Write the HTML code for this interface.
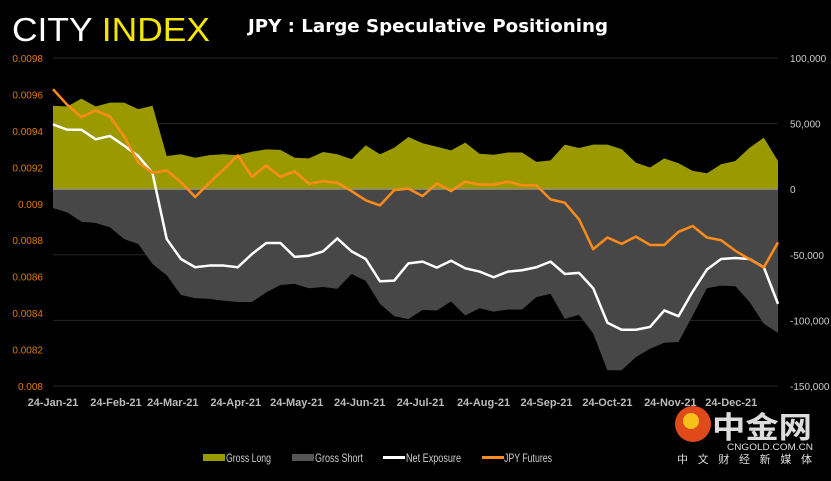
<!DOCTYPE html>
<html><head><meta charset="utf-8"><style>
body{margin:0;background:#000;width:831px;height:476px;overflow:hidden;font-family:"Liberation Sans",sans-serif;}
svg text{font-family:"Liberation Sans","Noto Sans CJK SC",sans-serif;}
</style></head><body>
<svg id="chart" width="831" height="476" viewBox="0 0 831 476">
<rect width="831" height="476" fill="#000"/>
<g>
<text x="12" y="41" font-size="33" fill="#fff" textLength="198" lengthAdjust="spacingAndGlyphs">CITY <tspan fill="#f4e600">INDEX</tspan></text>
</g>
<text x="248" y="32" font-size="18" font-weight="bold" fill="#fff" style="font-family:'DejaVu Sans',sans-serif" textLength="360" lengthAdjust="spacingAndGlyphs">JPY : Large Speculative Positioning</text>
<g id="grid"></g>
<g id="areas"></g>
<g id="lines"></g>
<g id="axes"></g>
<g font-size="12" fill="#ccc">
<g><rect x="203" y="454" width="22" height="7" fill="#9a9900"/><text x="226" y="462" textLength="45" lengthAdjust="spacingAndGlyphs">Gross Long</text></g>
<g><rect x="292" y="454" width="22" height="7" fill="#555"/><text x="315" y="462" textLength="48" lengthAdjust="spacingAndGlyphs">Gross Short</text></g>
<g><rect x="383" y="456" width="22" height="3" fill="#fff"/><text x="406" y="462" textLength="55" lengthAdjust="spacingAndGlyphs">Net Exposure</text></g>
<g><rect x="482" y="456" width="22" height="3" fill="#ff8c1a"/><text x="504" y="462" textLength="48" lengthAdjust="spacingAndGlyphs">JPY Futures</text></g>
</g>
<g>
<circle cx="693" cy="424" r="18" fill="#e04a1a"/>
<circle cx="691" cy="421" r="8" fill="#f6c21a"/>
<text x="712" y="438" font-size="30" font-weight="bold" fill="#ddd" textLength="100" lengthAdjust="spacingAndGlyphs">中金网</text>
<text x="727" y="450" font-size="9" fill="#ddd" textLength="86" lengthAdjust="spacingAndGlyphs">CNGOLD.COM.CN</text>
<text x="677" y="463" font-size="11" fill="#ddd" textLength="135" lengthAdjust="spacing">中文财经新媒体</text>
</g>
</svg>
<script>
const categories = [];
const startDate = new Date(2021,0,24);
const grossLong = [63.6,63,69,63,66,66,61,63.6,25.3,26.6,24,26,26.6,26,28.6,30.4,30,24,23.5,28.4,26.6,22.8,33.4,26.6,31.6,39.8,35,32.4,29.6,35.5,27,26.3,28,28,20.8,22,34,31.4,34,34,30.5,20.3,16.5,23.5,19.8,14,12.2,19,21.5,31.6,39.3,21.5];
const grossShort = [-14.4,-17.7,-24.8,-25.8,-29,-38,-41.8,-57,-65.6,-80.6,-83,-83.6,-85,-86,-86,-78.6,-73,-72.2,-75.5,-74.5,-76,-64.6,-69.9,-87.4,-96.7,-99,-92,-92.5,-85.6,-96.3,-90.7,-93.3,-91.7,-91.7,-82.3,-79.8,-98.8,-95.8,-110,-138,-138,-128,-121.6,-117,-116.5,-96.3,-75.5,-73.5,-74,-86,-102.6,-109.5];
const netExposure = [49.4,45.3,45.3,38,40.6,33.2,25.3,12.2,-38,-53.2,-59.5,-58.2,-58.2,-59.5,-49.4,-41,-41,-51.6,-50.7,-47.4,-37.5,-47.4,-53.2,-70.2,-69.7,-56.5,-55.2,-59.8,-54.5,-60.3,-62.8,-67.1,-62.8,-61.8,-59.5,-55.2,-64.6,-63.8,-75.5,-101.8,-107.1,-107.1,-105,-92.4,-96.8,-78,-61.2,-53.2,-52.4,-53.2,-59.5,-87.4];
const jpyFutures = [0.009629,0.009543,0.009476,0.009512,0.009479,0.00937,0.009228,0.00917,0.009183,0.009119,0.009037,0.009115,0.009188,0.009265,0.009148,0.00921,0.009148,0.009179,0.00911,0.009124,0.009115,0.00907,0.009019,0.008991,0.009075,0.009083,0.009042,0.009112,0.00907,0.009121,0.009106,0.009106,0.009121,0.009101,0.009101,0.009024,0.009006,0.008915,0.008751,0.008815,0.00878,0.00882,0.008774,0.008774,0.008846,0.008878,0.008815,0.0088,0.008742,0.008696,0.008651,0.008788];
const leftTicks = ["0.0098","0.0096","0.0094","0.0092","0.009","0.0088","0.0086","0.0084","0.0082","0.008"];
const rightTicks = ["100,000","50,000","0","-50,000","-100,000","-150,000"];
const xTickLabels = ["24-Jan-21","24-Feb-21","24-Mar-21","24-Apr-21","24-May-21","24-Jun-21","24-Jul-21","24-Aug-21","24-Sep-21","24-Oct-21","24-Nov-21","24-Dec-21"];
for(let i=0;i<grossLong.length;i++){const d=new Date(startDate);d.setDate(d.getDate()+7*i);categories.push(d);}

const NS="http://www.w3.org/2000/svg";
const X0=53,X1=778,YT=58,YB=386;
const totalDays=(categories[categories.length-1]-startDate)/864e5;
function xDate(d){return X0+((d-startDate)/864e5)/totalDays*(X1-X0);}
function xi(i){return xDate(categories[i]);}
function yR(v){return YT+(100-v)/250*(YB-YT);}
function yL(v){return YT+(0.0098-v)/0.0018*(YB-YT);}
function mk(tag,attrs,parent){const e=document.createElementNS(NS,tag);for(const k in attrs)e.setAttribute(k,attrs[k]);parent.appendChild(e);return e;}
const grid=document.getElementById('grid'),areas=document.getElementById('areas'),lines=document.getElementById('lines'),axes=document.getElementById('axes');
rightTicks.forEach((t,i)=>{const v=100-50*i;const y=yR(v);
 if(v!==0){const g=mk('line',{x1:X0,x2:X1,y1:y,y2:y,stroke:'#262626','stroke-width':1},grid);
 
 }
 const tx=mk('text',{x:790,y:y+4,'font-size':10,fill:'#ccc'},axes);tx.textContent=t;
 
 
});
leftTicks.forEach(t=>{const y=yL(parseFloat(t));
 const tx=mk('text',{x:43,y:y+4,'font-size':10,fill:'#e07b00','text-anchor':'end'},axes);tx.textContent=t;
 
 
});
const months=[0,1,2,3,4,5,6,7,8,9,10,11];
xTickLabels.forEach((t,i)=>{const d=new Date(2021,months[i],24);const x=xDate(d);
 const tx=mk('text',{x:x,y:406,'font-size':11,'font-weight':'bold',fill:'#bbb','text-anchor':'middle'},axes);tx.textContent=t;
 
 
});
function areaPath(arr){let d=`M${xi(0)},${yR(0)}`;arr.forEach((v,i)=>{d+=`L${xi(i)},${yR(v)}`;});d+=`L${xi(arr.length-1)},${yR(0)}Z`;return d;}
const aL=mk('path',{d:areaPath(grossLong),fill:'#9a9900'},areas);


const aS=mk('path',{d:areaPath(grossShort),fill:'#474747'},areas);


const zl=mk('line',{x1:X0,x2:X1,y1:yR(0),y2:yR(0),stroke:'#999','stroke-width':1},areas);


function linePath(arr,yf){return arr.map((v,i)=>(i?'L':'M')+xi(i)+','+yf(v)).join('');}
const ln=mk('path',{d:linePath(netExposure,yR),fill:'none',stroke:'#fff','stroke-width':2.5,'stroke-linejoin':'round'},lines);


const lf=mk('path',{d:linePath(jpyFutures,yL),fill:'none',stroke:'#ff8c1a','stroke-width':2.5,'stroke-linejoin':'round'},lines);


</script>
</body></html>
